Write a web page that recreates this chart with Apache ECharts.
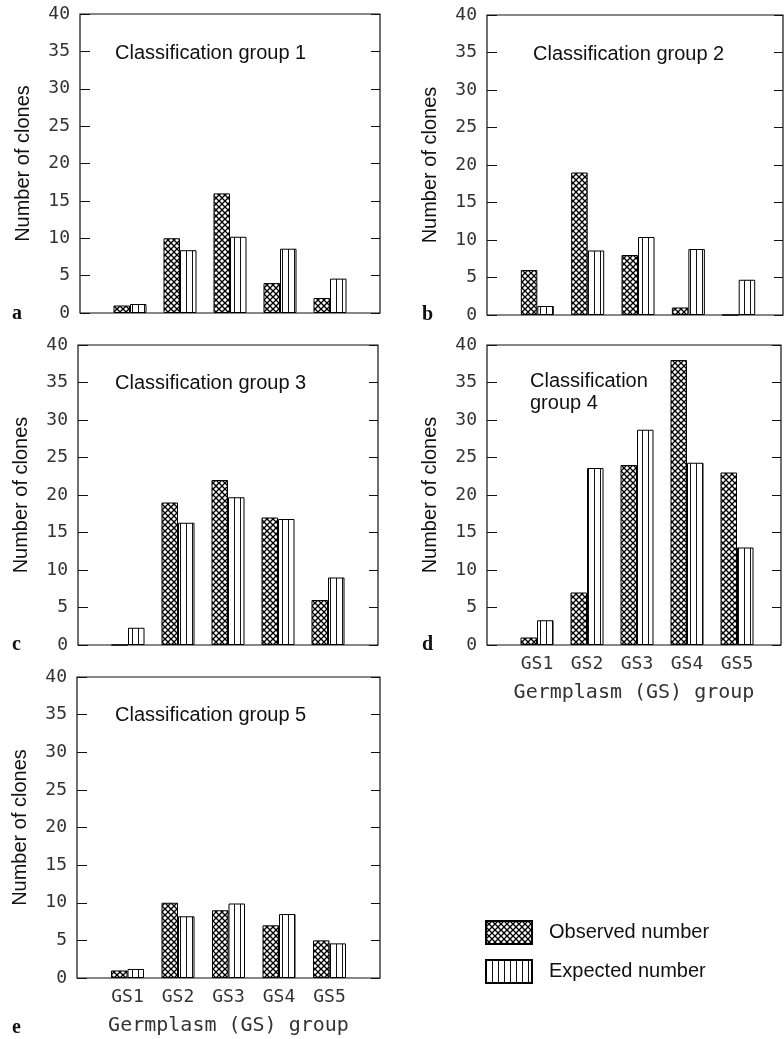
<!DOCTYPE html>
<html>
<head>
<meta charset="utf-8">
<script src="https://cdn.jsdelivr.net/npm/echarts@6/dist/echarts.min.js"></script>
<style>
  body { margin: 0; background: #fff; }
  #chart { width: 784px; height: 1039px; }
</style>
</head>
<body>
<div id="chart"></div>
<script>
// germplasm groups on the x axis
var gsGroups = ['GS1', 'GS2', 'GS3', 'GS4', 'GS5'];
var panelTitles = ['Classification group 1', 'Classification group 2', 'Classification group 3',
  'Classification\ngroup 4', 'Classification group 5'];
var panelLetters = ['a', 'b', 'c', 'd', 'e'];
var yTicks = [0, 5, 10, 15, 20, 25, 30, 35, 40];

// observed / expected number of clones per classification group
var observed1 = [1, 10, 16, 4, 2];
var expected1 = [1.2, 8.4, 10.2, 8.6, 4.6];
var observed2 = [6, 19, 8, 1, 0];
var expected2 = [1.2, 8.6, 10.4, 8.8, 4.7];
var observed3 = [0, 19, 22, 17, 6];
var expected3 = [2.3, 16.3, 19.7, 16.8, 9.0];
var observed4 = [1, 7, 24, 38, 23];
var expected4 = [3.3, 23.6, 28.7, 24.3, 13.0];
var observed5 = [1, 10, 9, 7, 5];
var expected5 = [1.2, 8.2, 9.9, 8.5, 4.6];

var observedAll = [observed1, observed2, observed3, observed4, observed5];
var expectedAll = [expected1, expected2, expected3, expected4, expected5];

// hatch patterns
function crossHatch() {
  var c = document.createElement('canvas');
  c.width = 6; c.height = 6;
  var ctx = c.getContext('2d');
  ctx.fillStyle = '#fff';
  ctx.fillRect(0, 0, 6, 6);
  ctx.strokeStyle = '#000';
  ctx.lineWidth = 1.3;
  [-6, 0, 6].forEach(function (k) {
    ctx.beginPath(); ctx.moveTo(k, 0); ctx.lineTo(k + 6, 6); ctx.stroke();
    ctx.beginPath(); ctx.moveTo(k, 6); ctx.lineTo(k + 6, 0); ctx.stroke();
  });
  return c;
}
function vertStripes() {
  var c = document.createElement('canvas');
  c.width = 6; c.height = 6;
  var ctx = c.getContext('2d');
  ctx.fillStyle = '#fff';
  ctx.fillRect(0, 0, 6, 6);
  ctx.fillStyle = '#111';
  ctx.fillRect(0, 0, 1, 6);
  return c;
}
var obsFill = { image: crossHatch(), repeat: 'repeat' };
var expFill = { image: vertStripes(), repeat: 'repeat' };

// panel boxes (px)
var boxes = [
  { left: 80, top: 14, width: 300, height: 299, xmax: 6 },
  { left: 487, top: 15, width: 296, height: 300, xmax: 5.88 },
  { left: 78, top: 345, width: 300, height: 300, xmax: 6 },
  { left: 487, top: 345, width: 296, height: 300, xmax: 5.88 },
  { left: 77, top: 677, width: 303, height: 301, xmax: 6 }
];
var titlePos = [[115, 42], [533, 43], [115, 372], [530, 370], [115, 704]];
var letterPos = [[12, 304], [422, 305], [12, 635], [422, 635], [12, 1018]];

var monoFont = 'DejaVu Sans Mono';
var sansFont = 'Liberation Sans';

var grids = [], xAxes = [], yAxes = [], series = [], titles = [], graphics = [];

boxes.forEach(function (b, i) {
  grids.push({
    left: b.left, top: b.top, width: b.width, height: b.height,
    show: true, borderColor: '#111', borderWidth: 1.2, backgroundColor: 'transparent'
  });
  var showX = (i === 3 || i === 4);
  xAxes.push({
    gridIndex: i, type: 'value', min: 0, max: b.xmax, interval: 1,
    axisLine: { show: false }, axisTick: { show: false }, splitLine: { show: false },
    axisLabel: {
      show: showX, margin: 10, fontFamily: monoFont, fontSize: 18, color: '#333',
      formatter: function (v) { return gsGroups[v - 1] || ''; }
    },
    name: showX ? 'Germplasm (GS) group' : '',
    nameLocation: 'middle', nameGap: 38,
    nameTextStyle: { fontFamily: monoFont, fontSize: 20, color: '#333' }
  });
  yAxes.push({
    gridIndex: i, type: 'value', min: 0, max: 40, interval: 5, position: 'left',
    axisLine: { show: false }, splitLine: { show: false },
    axisTick: { show: true, inside: true, length: 10, lineStyle: { color: '#111' } },
    axisLabel: {
      margin: 10, fontFamily: monoFont, fontSize: 18, color: '#333',
      formatter: function (v) { return yTicks.indexOf(v) >= 0 ? String(v) : ''; }
    },
    name: 'Number of clones', nameLocation: 'middle', nameRotate: 90, nameGap: 47,
    nameTextStyle: { fontFamily: sansFont, fontSize: 20, color: '#111' }
  });
  yAxes.push({
    gridIndex: i, type: 'value', min: 0, max: 40, interval: 5, position: 'right',
    axisLine: { show: false }, splitLine: { show: false }, axisLabel: { show: false },
    axisTick: { show: true, inside: true, length: 9, lineStyle: { color: '#111' } }
  });
  series.push({
    name: 'Observed number', type: 'bar', xAxisIndex: i, yAxisIndex: 2 * i,
    barWidth: 16.5, barGap: '0%',
    itemStyle: { color: obsFill, borderColor: '#000', borderWidth: 1 },
    data: gsGroups.map(function (g, k) { return [k + 1, observedAll[i][k]]; })
  });
  series.push({
    name: 'Expected number', type: 'bar', xAxisIndex: i, yAxisIndex: 2 * i,
    barWidth: 16.5, barGap: '0%',
    itemStyle: { color: expFill, borderColor: '#000', borderWidth: 1 },
    data: gsGroups.map(function (g, k) { return [k + 1, expectedAll[i][k]]; })
  });
  titles.push({
    text: panelTitles[i], left: titlePos[i][0], top: titlePos[i][1], padding: 0,
    textStyle: { fontFamily: sansFont, fontSize: 20, fontWeight: 'normal', color: '#111', lineHeight: 22 }
  });
  graphics.push({
    type: 'text', left: letterPos[i][0], top: letterPos[i][1],
    style: { text: panelLetters[i], font: 'bold 20px "Liberation Serif"', fill: '#111' }
  });
});

var chart = echarts.init(document.getElementById('chart'));
chart.setOption({
  animation: false,
  backgroundColor: '#fff',
  title: titles,
  grid: grids,
  xAxis: xAxes,
  yAxis: yAxes,
  legend: {
    data: ['Observed number', 'Expected number'],
    orient: 'vertical', left: 485, top: 920, padding: 0,
    itemWidth: 46, itemHeight: 23, itemGap: 14, icon: 'rect', selectedMode: false,
    textStyle: { fontFamily: sansFont, fontSize: 20, color: '#111', padding: [0, 0, 0, 12] }
  },
  graphic: graphics,
  series: series
});
</script>
</body>
</html>
